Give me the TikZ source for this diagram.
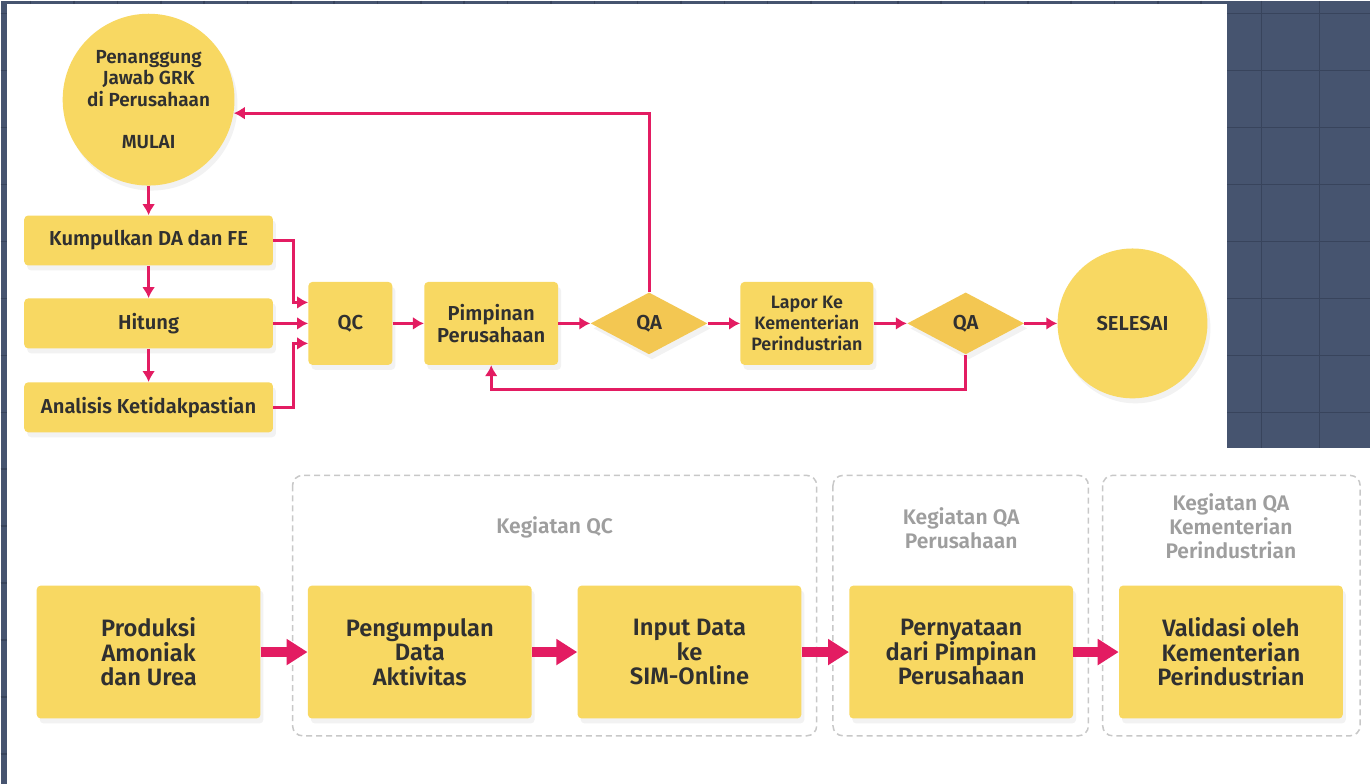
\documentclass[tikz,border=0pt]{standalone}
\usepackage{fontspec}
\setmainfont{Fira Sans}[BoldFont={Fira Sans SemiBold}]
\usepackage{tikz}
\usetikzlibrary{positioning,shapes.geometric,arrows.meta,shadows,calc}
\definecolor{boxyellow}{RGB}{248,216,98}
\definecolor{qayellow}{RGB}{243,199,82}
\definecolor{linkpink}{RGB}{227,28,98}
\definecolor{inkgray}{RGB}{48,48,48}
\definecolor{framegray}{RGB}{200,200,200}
\definecolor{labelgray}{RGB}{158,158,158}
\definecolor{bgblue}{RGB}{70,84,111}
\definecolor{gridblue}{RGB}{56,68,92}
\tikzset{>={Latex[length=2.2mm,width=2.6mm]}}

\begin{document}
\begin{tikzpicture}[node distance=1cm, on grid,
    softshadow/.style={drop shadow={opacity=0.1, shadow xshift=0.06cm, shadow yshift=-0.1cm}},
    stepbox/.style={rectangle, fill=boxyellow, rounded corners=0.08cm, inner sep=0pt, align=center,
        text=inkgray, font=\bfseries\fontsize{11.5}{12.4}\selectfont, softshadow},
    bigbox/.style={stepbox, minimum width=4.48cm, minimum height=2.66cm,
        font=\bfseries\fontsize{13.5}{14}\selectfont},
    startend/.style={circle, fill=boxyellow, inner sep=0pt, align=center,
        text=inkgray, font=\bfseries\fontsize{10.8}{12}\selectfont, softshadow},
    check/.style={diamond, fill=qayellow, inner sep=0pt, minimum width=2.34cm, minimum height=1.24cm,
        text=inkgray, font=\bfseries\fontsize{11.5}{12}\selectfont, softshadow},
    link/.style={draw=linkpink, line width=0.06cm, ->},
    bigarrow/.style={draw=linkpink, line width=0.2cm, -{Triangle[length=0.42cm,width=0.5cm]}},
    groupframe/.style={draw=framegray, line width=0.03cm, dash pattern=on 0.12cm off 0.08cm, rounded corners=0.2cm},
    grouplabel/.style={align=center, text=labelgray, font=\bfseries\fontsize{12}{13.6}\selectfont}]
    % background
    \fill[bgblue] (0,0) rectangle (27.42,-15.68);
    \foreach \k in {0,...,13}
        \draw[gridblue, line width=0.03cm] (0,-0.26-1.14*\k) -- (27.42,-0.26-1.14*\k);
    \foreach \k in {0,...,27}
        \draw[gridblue, line width=0.03cm] (0.6+0.868*\k,0) -- (0.6+0.868*\k,-0.06);
    \foreach \x in {25.24,26.4}
        \draw[gridblue, line width=0.03cm] (\x,0) -- (\x,-8.96);
    \fill[white] (0.12,-0.06) rectangle (24.56,-8.96);
    \fill[white] (0.12,-8.96) rectangle (27.42,-15.68);

    \node[startend, minimum size=3.44cm] (mulai) at (2.96,-1.98) {Penanggung\\Jawab GRK\\di Perusahaan\\[12pt]MULAI};
    \node[stepbox, minimum width=4.98cm, minimum height=1cm] (kumpul) [below=2.82cm of mulai] {Kumpulkan DA dan FE};
    \node[stepbox, minimum width=4.98cm, minimum height=1cm] (hitung) [below=1.66cm of kumpul] {Hitung};
    \node[stepbox, minimum width=4.98cm, minimum height=1cm] (analisis) [below=1.68cm of hitung] {Analisis Ketidakpastian};
    \node[stepbox, minimum width=1.68cm, minimum height=1.66cm] (qc) [right=4.04cm of hitung] {QC};
    \node[stepbox, minimum width=2.68cm, minimum height=1.66cm] (pimpinan) [right=2.82cm of qc] {Pimpinan\\Perusahaan};
    \node[check] (qa1) [right=3.16cm of pimpinan] {QA};
    \node[stepbox, minimum width=2.66cm, minimum height=1.66cm, font=\bfseries\fontsize{10.2}{12}\selectfont] (lapor) [right=3.16cm of qa1] {Lapor Ke\\Kementerian\\Perindustrian};
    \node[check] (qa2) [right=3.18cm of lapor] {QA};
    \node[startend, minimum size=3cm, font=\bfseries\fontsize{11.5}{12}\selectfont] (selesai) [right=3.34cm of qa2] {SELESAI};

    \node[bigbox] (produksi) [below=4.9cm of analisis] {Produksi\\Amoniak\\dan Urea};
    \node[bigbox] (pengumpulan) [right=5.43cm of produksi] {Pengumpulan\\Data\\Aktivitas};
    \node[bigbox] (input) [right=5.4cm of pengumpulan] {Input Data\\ke\\SIM-Online};
    \node[bigbox] (pernyataan) [right=5.44cm of input] {Pernyataan\\dari Pimpinan\\Perusahaan};
    \node[bigbox] (validasi) [right=5.4cm of pernyataan] {Validasi oleh\\Kementerian\\Perindustrian};

    \draw[groupframe] ([shift={(-0.3cm,2.2cm)}]pengumpulan.north west) rectangle ([shift={(0.3cm,-0.34cm)}]input.south east);
    \draw[groupframe] ([shift={(-0.32cm,2.2cm)}]pernyataan.north west) rectangle ([shift={(0.3cm,-0.34cm)}]pernyataan.south east);
    \draw[groupframe] ([shift={(-0.32cm,2.2cm)}]validasi.north west) rectangle ([shift={(0.34cm,-0.34cm)}]validasi.south east);
    \node[grouplabel] (qctitle) at ($(pengumpulan.north)!0.5!(input.north)+(0,1.16cm)$) {Kegiatan QC};
    \node[grouplabel] (qaptitle) at ($(pernyataan.north)+(0,1.14cm)$) {Kegiatan QA\\Perusahaan};
    \node[grouplabel] (qaktitle) at ($(validasi.north)+(0,1.18cm)$) {Kegiatan QA\\Kementerian\\Perindustrian};

    \draw[link] (mulai) -- (kumpul);
    \draw[link] (kumpul) -- (hitung);
    \draw[link] (hitung) -- (analisis);
    \draw[link] (kumpul.east) -- ++(0.4cm,0) |- ([yshift=0.42cm]qc.west);
    \draw[link] (hitung) -- (qc);
    \draw[link] (analisis.east) -- ++(0.4cm,0) |- ([yshift=-0.4cm]qc.west);
    \draw[link] (qc) -- (pimpinan);
    \draw[link] (pimpinan) -- (qa1);
    \draw[link] (qa1) -- (lapor);
    \draw[link] (lapor) -- (qa2);
    \draw[link] (qa2) -- (selesai);
    \draw[link] (qa1.north) |- (mulai.-9);
    \draw[link] (qa2.south) -- ++(0,-0.7cm) -| (pimpinan.south);

    \draw[bigarrow] (produksi) -- (pengumpulan);
    \draw[bigarrow] (pengumpulan) -- (input);
    \draw[bigarrow] (input) -- (pernyataan);
    \draw[bigarrow] (pernyataan) -- (validasi);
\end{tikzpicture}
\end{document}
